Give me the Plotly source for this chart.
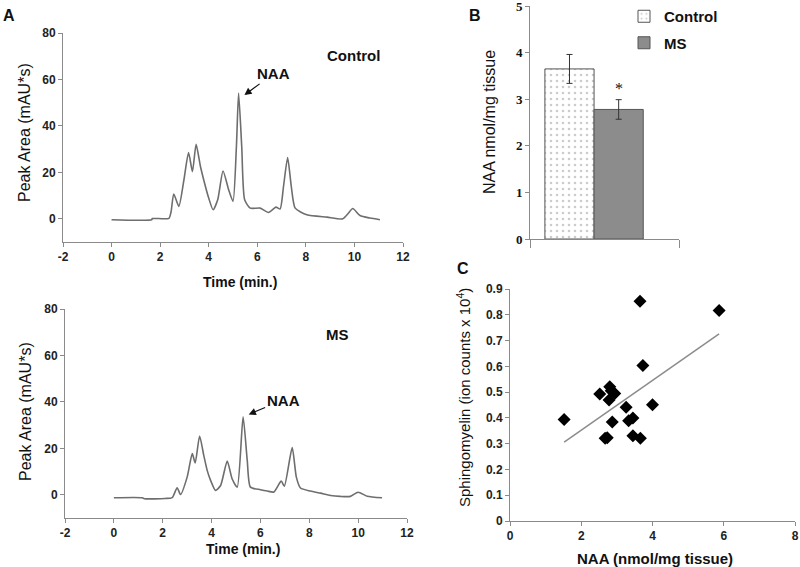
import plotly.graph_objects as go

# ---- Panel A: chromatograms (time in min, peak area in mAU*s) ----
ctrl_t = [0.0, 1.65, 1.68, 2.36, 2.45, 2.56, 2.77, 2.98, 3.17, 3.33, 3.48, 3.66, 3.83, 4.0, 4.18, 4.37,
          4.59, 4.82, 5.0, 5.14, 5.23, 5.36, 5.48, 5.71, 6.12, 6.46, 6.77, 6.94, 7.08, 7.25, 7.4, 7.56,
          8.04, 8.87, 9.52, 9.75, 9.93, 10.23, 10.64, 11.05]
ctrl_y = [-0.4, -0.4, 0.1, 0.2, 3.0, 10.7, 5.3, 16.8, 28.5, 20.3, 32.1, 22.5, 15.3, 8.9, 3.9, 8.2,
          20.6, 12.5, 7.5, 31.0, 54.1, 31.0, 8.2, 4.6, 4.6, 2.7, 5.0, 4.2, 13.9, 26.4, 13.9, 4.6,
          1.7, 0.7, 0.0, 2.4, 4.4, 1.4, 0.3, -0.4]

ms_t = [0.0, 1.16, 1.25, 2.1, 2.39, 2.59, 2.73, 3.0, 3.21, 3.33, 3.51, 3.68, 3.82, 3.96, 4.16, 4.37,
        4.64, 4.84, 5.05, 5.29, 5.46, 5.59, 6.0, 6.28, 6.55, 6.85, 6.98, 7.3, 7.47, 7.64, 8.05,
        8.46, 8.87, 9.27, 9.68, 10.0, 10.37, 10.98]
ms_y = [-1.3, -1.3, -1.7, -1.6, -1.2, 3.0, 0.1, 7.6, 17.7, 13.7, 25.3, 17.0, 10.5, 6.2, 1.9, 4.0,
        14.5, 6.9, 3.3, 33.6, 14.8, 3.3, 2.2, 1.6, 1.2, 5.9, 3.7, 20.3, 7.6, 2.9, 1.6,
        0.7, -0.3, -0.7, -0.7, 1.1, -0.6, -1.3]

time_ticks = [-2, 0, 2, 4, 6, 8, 10, 12]
time_labels = ["-2", "0", "2", "4", "6", "8", "10", "12"]
area_ticks = [0, 20, 40, 60, 80]

# ---- Panel B: NAA content ----
groups = ["Control", "MS"]
naa_mean = [3.65, 2.78]
naa_err = [0.31, 0.21]

# ---- Panel C: sphingomyelin vs NAA ----
sc_naa = [1.52, 2.52, 2.80, 2.84, 2.94, 2.78, 3.26, 4.00, 2.87, 3.33, 3.45, 2.67, 2.73, 3.45, 3.66,
          3.73, 3.65, 5.87]
sc_sm = [0.394, 0.493, 0.521, 0.505, 0.495, 0.469, 0.441, 0.451, 0.384, 0.389, 0.400, 0.321, 0.323,
         0.331, 0.321, 0.603, 0.852, 0.817]
trend_x = [1.52, 5.87]
trend_y = [0.306, 0.726]

FONT = "Arial, 'Liberation Sans', sans-serif"
SERIF = "'Times New Roman', 'Liberation Serif', serif"
AXC = "#8a8a8a"

fig = go.Figure()

fig.add_trace(go.Scatter(x=ctrl_t, y=ctrl_y, mode="lines",
                         line=dict(color="#6e6e6e", width=1.6, shape="spline", smoothing=0.6),
                         xaxis="x", yaxis="y", showlegend=False))
fig.add_trace(go.Scatter(x=ms_t, y=ms_y, mode="lines",
                         line=dict(color="#6e6e6e", width=1.6, shape="spline", smoothing=0.6),
                         xaxis="x2", yaxis="y2", showlegend=False))

fig.add_trace(go.Bar(x=["NAA"], y=[naa_mean[0]], name=groups[0], width=0.33, offset=-0.40,
                     marker=dict(color="white", line=dict(color="#555555", width=1),
                                 pattern=dict(shape=".", size=6, solidity=0.15, fgcolor="#9a9a9a", bgcolor="white")),
                     error_y=dict(type="data", array=[naa_err[0]], color="#333333", thickness=1, width=3),
                     xaxis="x3", yaxis="y3", legendgroup="a"))
fig.add_trace(go.Bar(x=["NAA"], y=[naa_mean[1]], name=groups[1], width=0.33, offset=-0.07,
                     marker=dict(color="#8c8c8c", line=dict(color="#555555", width=1)),
                     error_y=dict(type="data", array=[naa_err[1]], color="#333333", thickness=1, width=3),
                     xaxis="x3", yaxis="y3", legendgroup="b"))

fig.add_trace(go.Scatter(x=trend_x, y=trend_y, mode="lines", line=dict(color="#8c8c8c", width=1.5),
                         xaxis="x4", yaxis="y4", showlegend=False))
fig.add_trace(go.Scatter(x=sc_naa, y=sc_sm, mode="markers",
                         marker=dict(symbol="diamond", size=10, color="black"),
                         xaxis="x4", yaxis="y4", showlegend=False))

tickf = dict(family=FONT, size=12, color="#222222", weight="bold")
common = dict(showgrid=False, zeroline=False, showline=True, linecolor=AXC, linewidth=1, automargin=False,
              ticks="outside", tickcolor=AXC, ticklen=4, tickfont=tickf, ticklabeloverflow="allow")

W, H = 800, 567
def px(x0, x1):
    return [x0 / W, x1 / W]
def py(top, bottom):
    return [1 - bottom / H, 1 - top / H]

fig.update_layout(
    width=W, height=H, margin=dict(l=0, r=0, t=0, b=0, autoexpand=False),
    paper_bgcolor="white", plot_bgcolor="white",
    font=dict(family=FONT, color="#111111"),
    barmode="overlay",
    xaxis=dict(domain=px(63, 403), range=[-2, 12], tickvals=time_ticks, ticktext=time_labels, anchor="y", **common),
    yaxis=dict(domain=py(33, 242), range=[-10, 80], tickvals=area_ticks, anchor="x", **common),
    xaxis2=dict(domain=px(65, 407), range=[-2, 12], tickvals=time_ticks, ticktext=time_labels, anchor="y2", **common),
    yaxis2=dict(domain=py(309, 518), range=[-10, 80], tickvals=area_ticks, anchor="x2", **common),
    xaxis3=dict(domain=px(530, 679), range=[-0.5, 0.5], type="category", anchor="y3", showticklabels=False,
                tickson="boundaries", ticks="outside", ticklen=8, tickcolor=AXC, automargin=False,
                showgrid=False, zeroline=False, showline=True, linecolor=AXC),
    yaxis3=dict(domain=py(6, 239), range=[0, 5], dtick=1, anchor="x3", automargin=False,
                showgrid=False, zeroline=False, showline=True, linecolor=AXC,
                ticks="outside", tickcolor=AXC, ticklen=4, ticklabeloverflow="allow",
                tickfont=dict(family=SERIF, size=13, color="#111111", weight="bold")),
    xaxis4=dict(domain=px(510, 795), range=[0, 8], dtick=2, anchor="y4", **common),
    yaxis4=dict(domain=py(289, 521), range=[0, 0.9], dtick=0.1, tickformat=".1~f", anchor="x4", **common),
    legend=dict(x=624 / W, y=1.0, xanchor="left", yanchor="top", bgcolor="rgba(0,0,0,0)",
                font=dict(family=FONT, size=15, color="#111111", weight="bold"), tracegroupgap=4),
)

def ann(text, x, y, size=14, bold=True, angle=0, family=FONT):
    t = f"<b>{text}</b>" if bold else text
    fig.add_annotation(text=t, x=x / W, y=1 - y / H, xref="paper", yref="paper", showarrow=False,
                       font=dict(family=family, size=size, color="#111111"), textangle=angle,
                       xanchor="center", yanchor="middle")

# panel letters
ann("A", 9, 15, size=16)
ann("B", 475, 15, size=16)
ann("C", 463, 268, size=16)

# axis titles
ann("Peak Area (mAU*s)", 25, 133, size=16, bold=False, angle=-90)
ann("Time (min.)", 240, 282, size=14)
ann("Peak Area (mAU*s)", 25, 412, size=16, bold=False, angle=-90)
ann("Time (min.)", 243, 549, size=14)
ann("NAA nmol/mg tissue", 489, 122, size=16, bold=False, angle=-90)
ann("Sphingomyelin (ion counts x 10<sup>4</sup>)", 463, 398, size=15, bold=False, angle=-90)
ann("NAA (nmol/mg tissue)", 655, 558, size=15)

# in-plot labels
fig.add_annotation(text="<b>Control</b>", x=9.95, y=70.5, xref="x", yref="y", showarrow=False,
                   font=dict(family=FONT, size=15, color="#111111"))
fig.add_annotation(text="<b>MS</b>", x=9.14, y=68.9, xref="x2", yref="y2", showarrow=False,
                   font=dict(family=FONT, size=15, color="#111111"))
# NAA peak labels with arrows pointing at the peak apex
fig.add_annotation(text="<b>NAA</b>", x=5.47, y=53.3, xref="x", yref="y", ax=6.66, ay=62.4,
                   axref="x", ayref="y", showarrow=True, arrowhead=2, arrowsize=1.2, arrowwidth=1.2,
                   arrowcolor="#111111", font=dict(family=FONT, size=15, color="#111111"))
fig.add_annotation(text="<b>NAA</b>", x=5.52, y=34.6, xref="x2", yref="y2", ax=6.93, ay=40.8,
                   axref="x2", ayref="y2", showarrow=True, arrowhead=2, arrowsize=1.2, arrowwidth=1.2,
                   arrowcolor="#111111", font=dict(family=FONT, size=15, color="#111111"))
# significance marker
fig.add_annotation(text="*", x=0.095, y=3.22, xref="x3", yref="y3", showarrow=False,
                   font=dict(family=SERIF, size=16, color="#111111"))

# the page's default 8px body margin would push the 800x567 figure partly out of the window
fig.write_html("out.html", config={"displayModeBar": False},
               post_script="document.body.style.margin='0';")
